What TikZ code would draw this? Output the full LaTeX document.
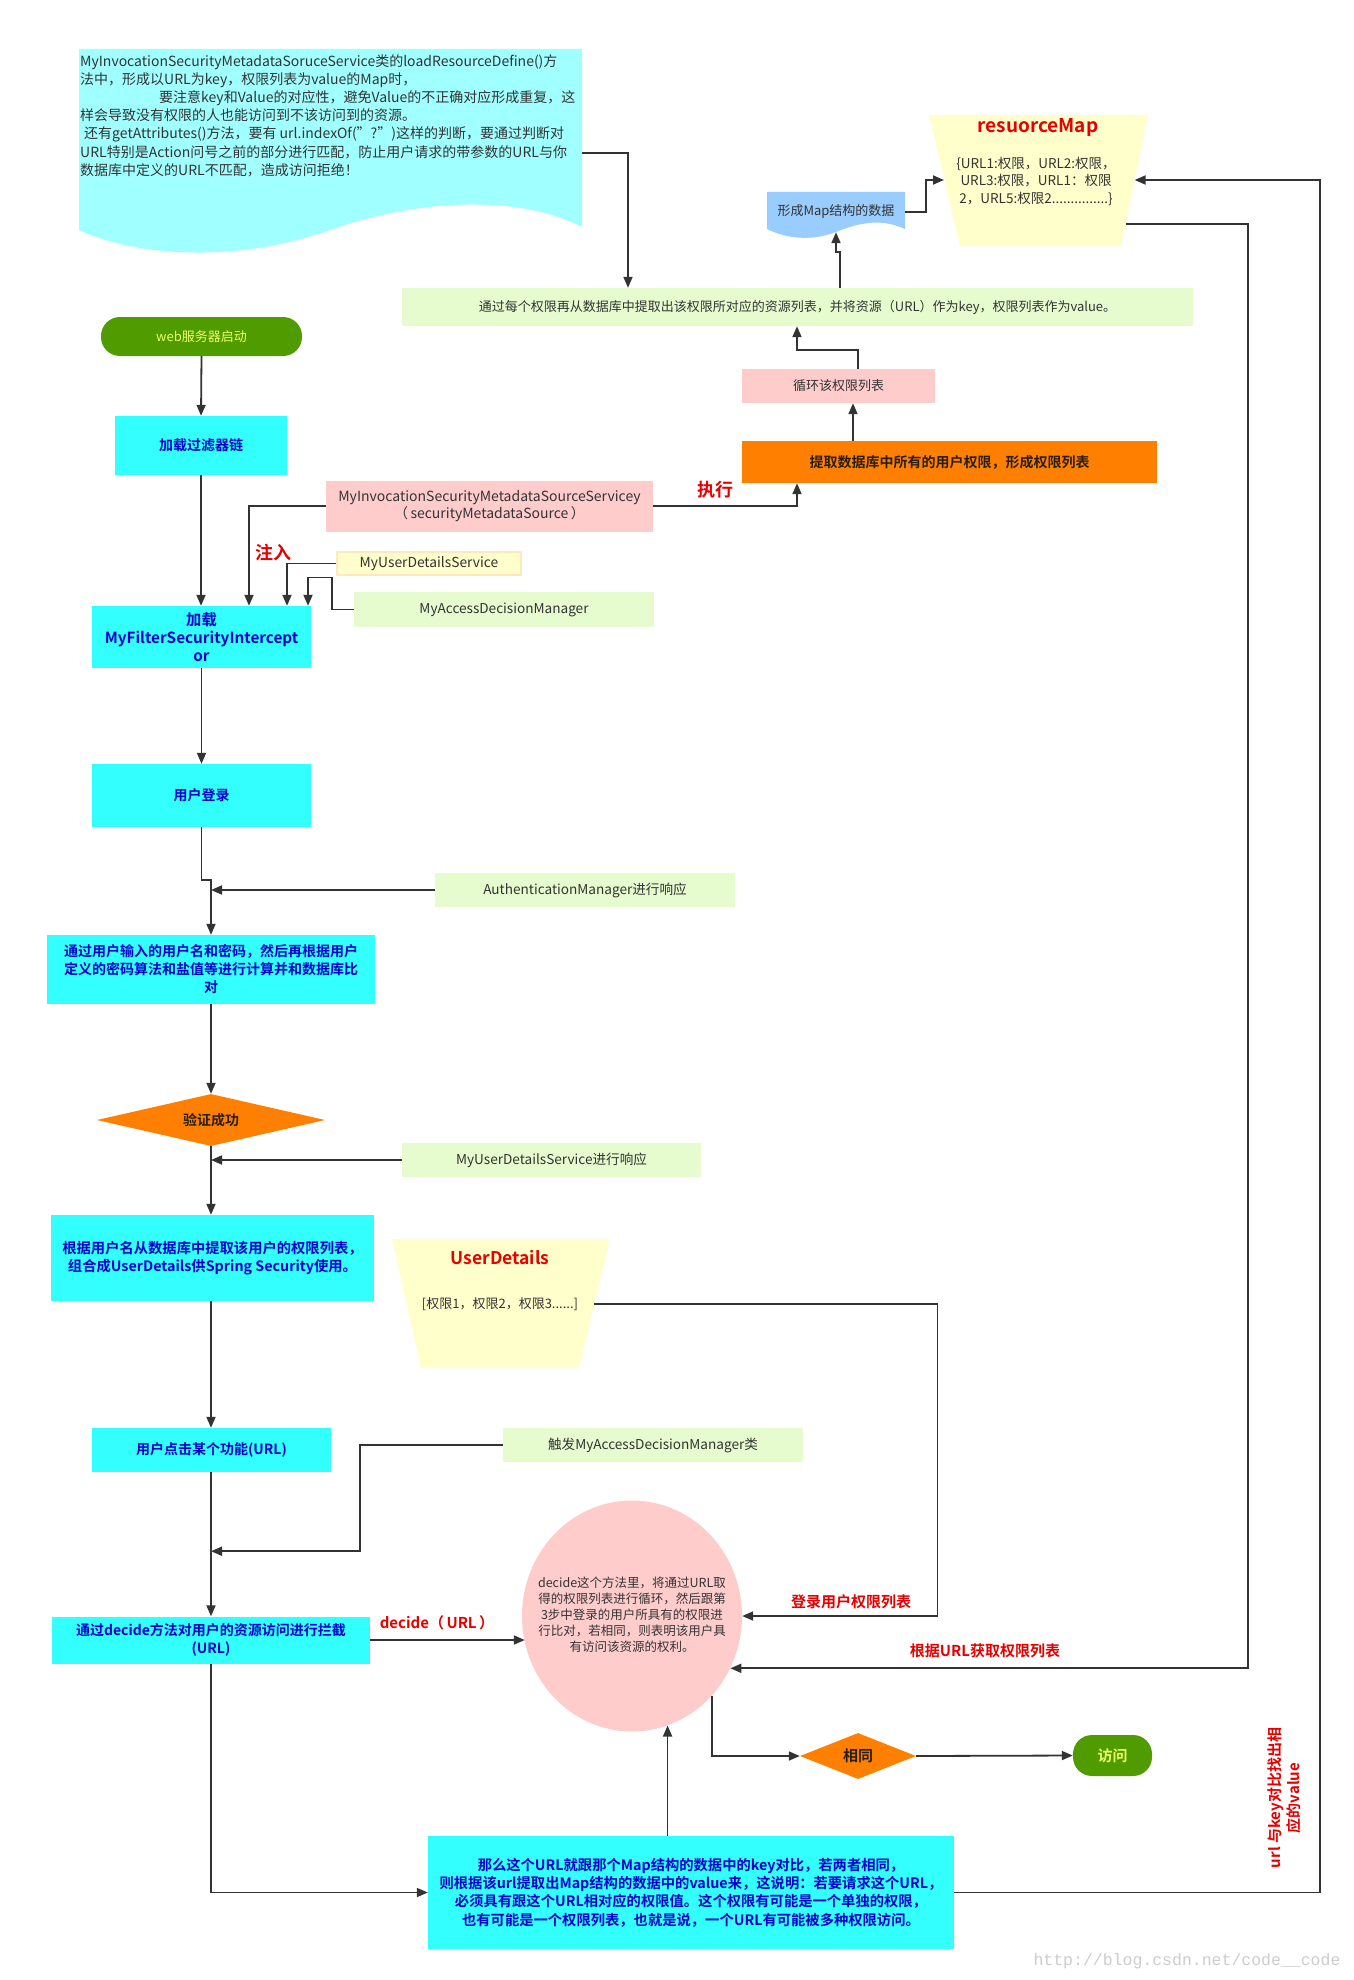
\documentclass[tikz,border=0pt]{standalone}
\usepackage{fontspec}
\setmainfont{Noto Sans CJK SC}[BoldFont={Noto Sans CJK SC Bold}]
\newfontfamily\wmfont{Liberation Mono}
\usetikzlibrary{positioning,shapes.geometric,arrows.meta}
\definecolor{procCyan}{RGB}{51,255,255}
\definecolor{procBlue}{RGB}{0,0,204}
\definecolor{hintGreen}{RGB}{230,252,207}
\definecolor{pinkFill}{RGB}{255,204,204}
\definecolor{orangeFill}{RGB}{255,128,0}
\definecolor{pillGreen}{RGB}{80,155,0}
\definecolor{pillText}{RGB}{235,255,100}
\definecolor{paleYellow}{RGB}{255,255,204}
\definecolor{paleOrange}{RGB}{255,232,190}
\definecolor{docCyan}{RGB}{160,255,255}
\definecolor{mapBlue}{RGB}{153,204,255}
\definecolor{alertRed}{RGB}{230,0,0}
\definecolor{inkGray}{RGB}{51,51,51}
\definecolor{inkDark}{RGB}{40,30,20}
\definecolor{lineGray}{RGB}{51,51,51}
\definecolor{wmGray}{RGB}{205,205,205}
\newcommand\fsz[2]{\fontsize{#1}{#2}\selectfont}
\tikzset{%
	flow/.style={%
		draw=lineGray,
		line width=1.8pt,
		-{Triangle[length=11pt,width=9pt]}
	},
	procbox/.style={rectangle, fill=procCyan, text=procBlue, font=\bfseries\fsz{14}{18}, align=center, inner sep=0pt},
	hintbox/.style={rectangle, fill=hintGreen, text=inkGray, font=\fsz{13.6}{16}, inner sep=0pt},
	pinkbox/.style={rectangle, fill=pinkFill, text=inkGray, font=\fsz{13}{16}, inner sep=0pt},
	pill/.style={rectangle, rounded corners=19pt, fill=pillGreen, text=pillText, font=\fsz{13}{16}, inner sep=0pt},
	decision/.style={diamond, aspect=4, fill=orangeFill, text=inkDark, font=\bfseries\fsz{14}{17}, inner sep=0pt},
	redlabel/.style={text=alertRed, font=\bfseries\fsz{18}{20}, inner sep=0pt}
}

\begin{document}
\begin{tikzpicture}[x=1pt, y=-1pt]
        \fill[white] (0,0) rectangle (1353,1980);
        \useasboundingbox (0,0) rectangle (1353,1980);

        % wavy notes and trapezoids
        \fill[docCyan] (79,49) -- (582,49) -- (582,227) .. controls (520,195) and (420,198) .. (330,230) .. controls (240,262) and (140,258) .. (79,230) -- cycle;
        \node[anchor=north west, inner sep=0pt, align=left, text=inkGray, font=\fsz{14}{18.2}] (srctext) at (80,54) {MyInvocationSecurityMetadataSoruceService类的loadResourceDefine()方\\法中，形成以URL为key，权限列表为value的Map时，\\\hspace*{79pt}要注意key和Value的对应性，避免Value的不正确对应形成重复，这\\样会导致没有权限的人也能访问到不该访问到的资源。\\\hspace*{4pt}还有getAttributes()方法，要有 url.indexOf("?")这样的判断，要通过判断对\\URL特别是Action问号之前的部分进行匹配，防止用户请求的带参数的URL与你\\数据库中定义的URL不匹配，造成访问拒绝！};
        \coordinate (srcout) at (582,153);

        \fill[mapBlue] (767,192) -- (905,192) -- (905,229) .. controls (885,220) and (865,220) .. (836,232) .. controls (810,242) and (785,238) .. (767,229) -- cycle;
        \node[inner sep=0pt, minimum width=138, minimum height=40, text=inkGray, font=\fsz{13}{16}] (mapdoc) at (836,212) {形成Map结构的数据};

        \fill[paleYellow] (929,115) -- (1148,115) -- (1121,246) -- (960,246) -- cycle;
        \node[redlabel, font=\bfseries\fsz{19}{21}] (rmaptitle) at (1038,128) {resuorceMap};
        \node[align=center, text=inkGray, font=\fsz{13.5}{17.5}] (rmapbody) at (1036,181) {\{URL1:权限，URL2:权限，\\URL3:权限，URL1：权限\\2，URL5:权限2...............\}};
        \coordinate (rmapL) at (944,180);
        \coordinate (rmapR) at (1134.6,180);
        \coordinate (rmapB) at (1125.5,224);

        \fill[paleYellow] (392,1239) -- (610,1239) -- (579,1368) -- (421,1368) -- cycle;
        \node[redlabel, font=\bfseries\fsz{17.5}{20}] (udtitle) at (500,1258) {UserDetails};
        \node[text=inkGray, font=\fsz{13}{16}] (udbody) at (500,1304) {[权限1，权限2，权限3......]};
        \coordinate (udR) at (594.4,1304);

        % boxes
        \node[hintbox, minimum width=791, minimum height=38, font=\fsz{13}{16}] (mapping) at (797.5,307) {通过每个权限再从数据库中提取出该权限所对应的资源列表，并将资源（URL）作为key，权限列表作为value。};
        \node[pinkbox, minimum width=193, minimum height=34] (loop) at (838.5,386) {循环该权限列表};
        \node[rectangle, fill=orangeFill, minimum width=415, minimum height=42, inner sep=0pt, text=inkDark, font=\bfseries\fsz{14}{17}] (extract) at (949.5,462) {提取数据库中所有的用户权限，形成权限列表};
        \node[pinkbox, minimum width=327, minimum height=51, align=center, font=\fsz{14}{17}] (invoke) at (489.5,506) {MyInvocationSecurityMetadataSourceServicey\\（\,securityMetadataSource\,）};
        \node[rectangle, fill=paleYellow, draw=paleOrange, line width=1.5pt, minimum width=184, minimum height=23, inner sep=0pt, text=inkGray, font=\fsz{13.8}{16}] (uds) at (429,563.5) {MyUserDetailsService};
        \node[hintbox, minimum width=300, minimum height=35] (adm) at (504,609.5) {MyAccessDecisionManager};

        \node[pill, minimum width=201, minimum height=39] (start) at (201.5,336.5) {web服务器启动};
        \node[procbox, minimum width=172, minimum height=59] (chain) at (201,445.5) {加载过滤器链};
        \node[procbox, minimum width=219, minimum height=62, font=\bfseries\fsz{15.3}{17.7}] (filter) at (201.5,637) {加载\\MyFilterSecurityIntercept\\or};
        \node[procbox, minimum width=219, minimum height=63] (login) at (201.5,795.5) {用户登录};
        \node[hintbox, minimum width=300, minimum height=34] (authnote) at (585,890) {AuthenticationManager进行响应};
        \node[procbox, minimum width=328, minimum height=69] (verify) at (211,969.5) {通过用户输入的用户名和密码，然后再根据用户\\定义的密码算法和盐值等进行计算并和数据库比\\对};
        \node[decision, minimum width=228, minimum height=52] (ok) at (211,1120) {验证成功};
        \node[hintbox, minimum width=299, minimum height=34] (udsnote) at (551.5,1160) {MyUserDetailsService进行响应};
        \node[procbox, minimum width=323, minimum height=86, font=\bfseries\fsz{14.3}{18}] (loaduser) at (212.5,1258) {根据用户名从数据库中提取该用户的权限列表，\\组合成UserDetails供Spring Security使用。};
        \node[procbox, minimum width=239, minimum height=44] (click) at (211.5,1450) {用户点击某个功能(URL)};
        \node[hintbox, minimum width=300, minimum height=34] (admnote) at (653,1445) {触发MyAccessDecisionManager类};
        \node[procbox, minimum width=318, minimum height=47] (intercept) at (211,1640) {通过decide方法对用户的资源访问进行拦截\\(URL)};

        \node[ellipse, fill=pinkFill, minimum width=220, minimum height=231, inner sep=0pt] (decide) at (632,1616) {};
        \node[align=center, text=inkGray, font=\fsz{12.5}{16}] (decidetext) at (632,1615) {decide这个方法里，将通过URL取\\得的权限列表进行循环，然后跟第\\3步中登录的用户所具有的权限进\\行比对，若相同，则表明该用户具\\有访问该资源的权利。};
        \node[decision, minimum width=116, minimum height=46, aspect=2.5, font=\bfseries\fsz{15}{18}] (same) at (858,1756) {相同};
        \node[pill, minimum width=79, minimum height=41, font=\bfseries\fsz{15}{18}] (access) at (1112.5,1755.5) {访问};
        \node[procbox, minimum width=526, minimum height=113, font=\bfseries\fsz{14.3}{18.3}] (compare) at (691,1892.5) {那么这个URL就跟那个Map结构的数据中的key对比，若两者相同，\\则根据该url提取出Map结构的数据中的value来，这说明：若要请求这个URL，\\必须具有跟这个URL相对应的权限值。这个权限有可能是一个单独的权限，\\也有可能是一个权限列表，也就是说，一个URL有可能被多种权限访问。};

        % labels
        \node[redlabel] (runlbl) at (715,490) {执行};
        \node[redlabel] (injectlbl) at (273,553) {注入};
        \node[redlabel, font=\bfseries\fsz{15}{18}] (decidelbl) at (437,1623) {decide（\,URL\,）};
        \node[redlabel, font=\bfseries\fsz{15}{18}] (ownlbl) at (851,1602) {登录用户权限列表};
        \node[redlabel, font=\bfseries\fsz{15}{18}] (urllbl) at (985,1651) {根据URL获取权限列表};
        \node[redlabel, rotate=90, align=center, font=\bfseries\fsz{15}{19}] (keylbl) at (1284,1798) {url 与key对比找出相\\应的value};
        \node[text=wmGray, inner sep=0pt, font=\wmfont\fsz{16.5}{18}] (mark) at (1187,1961) {http://blog.csdn.net/code\_\_code};

        % connectors
        \draw[flow] (srcout) -| ([xshift=-169.5pt]mapping.north);
        \draw[flow] ([xshift=42.5pt]mapping.north) -- ++(0,-36) -| (mapdoc.south);
        \draw[flow] (mapdoc.east) -- ++(21,0) |- (rmapL);
        \draw[flow] ([xshift=19.5pt]loop.north) -- ++(0,-19) -| ([xshift=-0.5pt]mapping.south);
        \draw[flow] ([xshift=-96.5pt]extract.north) -- ([xshift=14.5pt]loop.south);
        \draw[flow] (invoke.east) -| ([xshift=-152.5pt]extract.south);
        \draw[flow] (invoke.west) -| ([xshift=47.5pt]filter.north);
        \draw[flow] (uds.west) -| ([xshift=85.5pt]filter.north);
        \draw[flow] (adm.west) -- ++(-22,0) -- ++(0,-32) -| ([xshift=106.5pt]filter.north);

        \draw[flow] (start.south) -- (chain.north);
        \draw[flow] (chain.south) -- (filter.north -| chain.south);
        \draw[flow] (filter.south) -- (login.north);
        \draw[flow] (login.south) -- ++(0,53) -| (verify.north);
        \draw[flow] (authnote.west) -- (authnote.west -| verify.north);
        \draw[flow] (verify.south) -- (ok.north);
        \draw[flow] (udsnote.west) -- (udsnote.west -| ok.south);
        \draw[flow] (ok.south) -- (loaduser.north -| ok.south);
        \draw[flow] (loaduser.south -| ok.south) -- (click.north -| ok.south);
        \draw[flow] (click.south -| ok.south) -- (intercept.north -| ok.south);
        \draw[flow] (admnote.west) -- ++(-143,0) |- ([yshift=-79pt]click.south -| ok.south);
        \draw[flow] (intercept.east) -- (intercept.east -| decide.194);
        \draw[flow] (intercept.south -| ok.south) |- (compare.west);
        \draw[flow] (decide.-72 |- compare.north) -- (decide.-72);
        \draw[flow] (decide.-45) |- (same.west);
        \draw[flow] (same.east) -- (access.west);
        \draw[flow] (udR) -- ++(343,0) |- (decide.east);
        \draw[flow] (rmapB) -- ++(122.5,0) |- (decide.-28.5);
        \draw[flow] (compare.east) -- ++(366,0) |- (rmapR);
    \end{tikzpicture}
\end{document}
